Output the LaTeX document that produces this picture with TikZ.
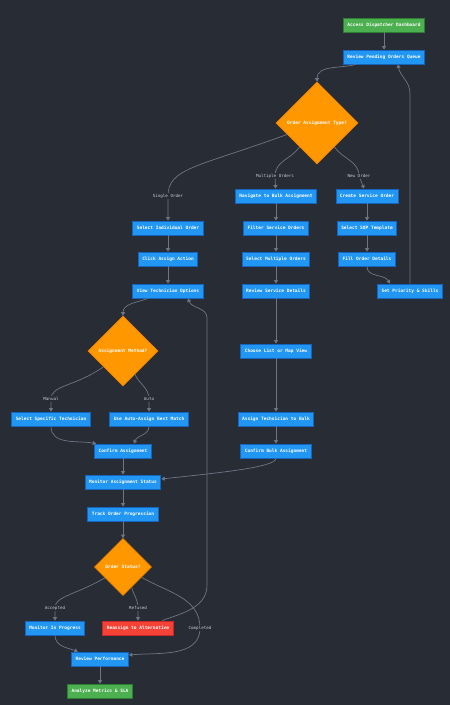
\documentclass[tikz,border=0pt]{standalone}
\usepackage{fontspec}
\setmonofont{DejaVu Sans Mono}
\usetikzlibrary{arrows.meta,positioning,shapes.geometric}
\definecolor{bgdark}{RGB}{40,44,52}
\definecolor{bluefill}{RGB}{33,150,243}
\definecolor{blueline}{RGB}{21,101,192}
\definecolor{greenfill}{RGB}{76,175,80}
\definecolor{greenline}{RGB}{46,125,50}
\definecolor{redfill}{RGB}{244,67,54}
\definecolor{redline}{RGB}{198,40,40}
\definecolor{orangefill}{RGB}{255,152,0}
\definecolor{orangeline}{RGB}{240,130,0}
\definecolor{edgegray}{RGB}{110,118,134}
\definecolor{taggray}{RGB}{200,204,212}

\begin{document}
\begin{tikzpicture}[
    x=1pt, y=1pt,
    box/.style={draw=blueline, fill=bluefill, line width=0.8pt, text=white, font=\ttfamily\bfseries\fontsize{4.5}{5}\selectfont, minimum height=14pt, inner xsep=4pt, inner ysep=1pt},
    startbox/.style={box, draw=greenline, fill=greenfill},
    failbox/.style={box, draw=redline, fill=redfill},
    choice/.style={diamond, aspect=1, draw=orangeline, fill=orangefill, line width=0.6pt, text=white, font=\ttfamily\bfseries\fontsize{4.5}{5}\selectfont, inner sep=0pt},
    tag/.style={fill=bgdark, text=taggray, font=\ttfamily\fontsize{4.2}{5}\selectfont, inner sep=1pt},
    arrow/.style={-{Triangle[width=4pt,length=3.5pt]}, draw=edgegray, line width=0.7pt}
]
\fill[bgdark] (0,0) rectangle (450,-705);
\useasboundingbox (0,0) rectangle (450,-705);

\node[startbox] (dash) at (384,-25) {Access Dispatcher Dashboard};
\node[box] (queue) at (384,-57) {Review Pending Orders Queue};
\node[choice, minimum size=82pt] (type) at (317,-123) {Order Assignment Type?};

\node[box] (bulk) at (276,-196) {Navigate to Bulk Assignment};
\node[box] (filter) at (276,-228) {Filter Service Orders};
\node[box] (selmulti) at (276,-259) {Select Multiple Orders};
\node[box] (details) at (276,-291) {Review Service Details};
\node[box] (view) at (276,-351) {Choose List or Map View};
\node[box] (assignbulk) at (276,-419) {Assign Technician to Bulk};
\node[box] (confbulk) at (276,-451) {Confirm Bulk Assignment};

\node[box] (create) at (367,-196) {Create Service Order};
\node[box] (sop) at (367,-228) {Select SOP Template};
\node[box] (fill) at (367,-259) {Fill Order Details};
\node[box] (prio) at (410,-291) {Set Priority \& Skills};

\node[box] (single) at (168,-228) {Select Individual Order};
\node[box] (click) at (168,-259) {Click Assign Action};
\node[box] (options) at (168,-291) {View Technician Options};
\node[choice, minimum size=70pt] (method) at (123,-351) {Assignment Method?};
\node[box] (manual) at (51,-419) {Select Specific Technician};
\node[box] (auto) at (149,-419) {Use Auto-Assign Best Match};
\node[box] (confirm) at (123,-451) {Confirm Assignment};

\node[box] (monitor) at (123,-482) {Monitor Assignment Status};
\node[box] (track) at (123,-514) {Track Order Progression};
\node[choice, minimum size=57pt] (status) at (123,-567) {Order Status?};
\node[box] (inprog) at (55,-628) {Monitor In Progress};
\node[failbox] (reassign) at (138,-628) {Reassign to Alternative};
\node[box] (perf) at (100,-659) {Review Performance};
\node[startbox] (sla) at (100,-691) {Analyze Metrics \& SLA};

\coordinate (csingle) at (168,-196);
\coordinate (cmulti) at (275,-176);
\coordinate (cnew) at (359,-176);
\coordinate (cmanual) at (51,-399);
\coordinate (cauto) at (149,-399);
\coordinate (cacc) at (55,-608);
\coordinate (cref) at (138,-608);
\coordinate (ccomp) at (200,-628);

\draw[arrow] (dash) -- (queue);
\draw[arrow] ([xshift=-28]queue.south) to[out=195,in=90] (type.north);
\draw[arrow] (type.201) .. controls +(200:95) and +(0,28) .. (csingle) -- (single);
\draw[arrow] (type.234) to[out=235,in=90] (cmulti) -- (bulk);
\draw[arrow] (type.306) to[out=-55,in=90] (cnew) -- (create);

\draw[arrow] (bulk) -- (filter);
\draw[arrow] (filter) -- (selmulti);
\draw[arrow] (selmulti) -- (details);
\draw[arrow] (details) -- (view);
\draw[arrow] (view) -- (assignbulk);
\draw[arrow] (assignbulk) -- (confbulk);
\draw[arrow] (confbulk.south) .. controls +(0,-9) and +(55,6) .. ([yshift=3]monitor.east);

\draw[arrow] (create) -- (sop);
\draw[arrow] (sop) -- (fill);
\draw[arrow] (fill.south) to[out=-90,in=120] ([xshift=-20]prio.north);
\draw[arrow] (prio.north) -- ++(0,190) to[out=90,in=-80] ([xshift=14]queue.south);

\draw[arrow] (single) -- (click);
\draw[arrow] (click) -- (options);
\draw[arrow] ([xshift=-20]options.south) to[out=200,in=90] (method.north);
\draw[arrow] (method.219) .. controls +(215:35) and +(0,14) .. (cmanual) -- (manual);
\draw[arrow] (method.297) to[out=-65,in=90] (cauto) -- (auto);
\draw[arrow] (manual.south) to[out=-90,in=170] ([xshift=2]confirm.north west);
\draw[arrow] (auto.south) to[out=-90,in=70] ([xshift=11]confirm.north);

\draw[arrow] (confirm) -- (monitor);
\draw[arrow] (monitor) -- (track);
\draw[arrow] (track) -- (status);
\draw[arrow] (status.211) .. controls +(210:35) and +(0,12) .. (cacc) -- (inprog);
\draw[arrow] (status.293) to[out=-75,in=90] (cref) -- (reassign);
\draw[arrow] (status.331) to[out=-30,in=90] (ccomp) to[out=-90,in=5] ([yshift=4]perf.east);
\draw[arrow] ([xshift=24]reassign.north) to[out=20,in=-90] (207,-585) -- (207,-318) to[out=90,in=-70] ([xshift=20]options.south);
\draw[arrow] (inprog.south) to[out=-90,in=160] ([xshift=-22]perf.north);
\draw[arrow] (perf) -- (sla);

\node[tag] (lsingle) at (csingle) {Single Order};
\node[tag] (lmulti) at (cmulti) {Multiple Orders};
\node[tag] (lnew) at (cnew) {New Order};
\node[tag] (lmanual) at (cmanual) {Manual};
\node[tag] (lauto) at (cauto) {Auto};
\node[tag] (lacc) at (cacc) {Accepted};
\node[tag] (lref) at (cref) {Refused};
\node[tag] (lcomp) at (ccomp) {Completed};
\end{tikzpicture}
\end{document}
